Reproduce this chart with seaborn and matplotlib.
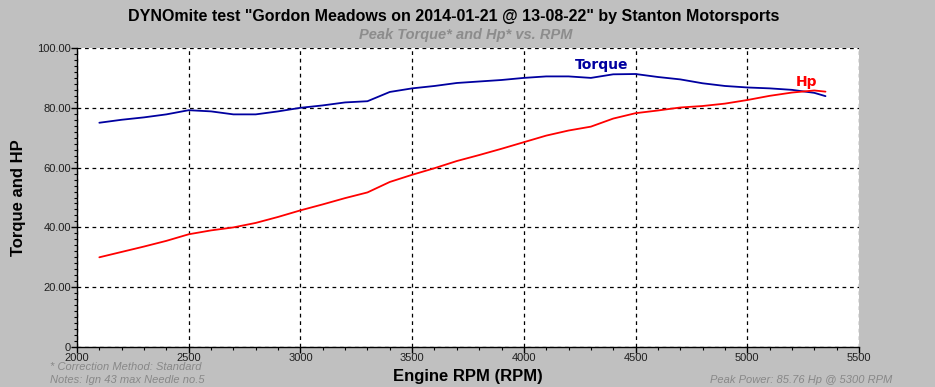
import pandas as pd
import numpy as np
import matplotlib
matplotlib.use("Agg")
import matplotlib.pyplot as plt
import seaborn as sns
from matplotlib.ticker import MultipleLocator, FixedLocator

rpm = [2100, 2200, 2300, 2400, 2500, 2600, 2700, 2800, 2900, 3000, 3100, 3200,
       3300, 3400, 3500, 3600, 3700, 3800, 3900, 4000, 4100, 4200, 4300, 4400,
       4500, 4600, 4700, 4800, 4900, 5000, 5100, 5200, 5300, 5350]
torque = [75.0, 76.0, 76.8, 77.8, 79.2, 78.8, 77.8, 77.8, 78.8, 80.0, 80.8, 81.8,
          82.2, 85.3, 86.5, 87.3, 88.3, 88.8, 89.3, 90.0, 90.5, 90.5, 90.0, 91.2,
          91.3, 90.3, 89.5, 88.2, 87.3, 86.8, 86.5, 86.0, 85.0, 83.9]
hp = [30.0, 31.8, 33.6, 35.5, 37.7, 39.0, 40.0, 41.5, 43.5, 45.7, 47.7, 49.8,
      51.7, 55.2, 57.6, 59.8, 62.2, 64.2, 66.3, 68.5, 70.7, 72.4, 73.7, 76.4,
      78.2, 79.1, 80.1, 80.6, 81.4, 82.6, 84.0, 85.1, 85.8, 85.4]

x_ticks = [2000, 2500, 3000, 3500, 4000, 4500, 5000, 5500]
y_ticks = [0, 20, 40, 60, 80, 100]
y_labels = ["0", "20.00", "40.00", "60.00", "80.00", "100.00"]

sns.set_style("white")
plt.rcParams['font.family'] = ['Liberation Sans', 'DejaVu Sans']

fig = plt.figure(figsize=(9.35, 3.87), dpi=100, facecolor="#c0c0c0")
ax = fig.add_axes([77/935, 1-347/387, (859-77)/935, (347-48)/387])
ax.set_facecolor("white")

df = pd.DataFrame({"rpm": rpm, "Torque": torque, "Hp": hp})
sns.lineplot(data=df, x="rpm", y="Torque", ax=ax, color="#0000a0", lw=1.3)
sns.lineplot(data=df, x="rpm", y="Hp", ax=ax, color="#ff0000", lw=1.3)

ax.set_xlim(2000, 5500)
ax.set_ylim(0, 100)
ax.xaxis.set_major_locator(FixedLocator(x_ticks))
ax.yaxis.set_major_locator(FixedLocator(y_ticks))
ax.set_yticklabels(y_labels)
ax.xaxis.set_minor_locator(MultipleLocator(100))
ax.yaxis.set_minor_locator(MultipleLocator(2))
ax.tick_params(which="major", direction="out", length=4, width=1, colors="black",
               labelsize=8, labelcolor="#202020", pad=0.5,
               bottom=True, left=True)
ax.tick_params(which="minor", direction="out", length=2, width=0.8, colors="black",
               bottom=True, left=True)
ax.grid(True, which="major", color="black", linestyle=(0, (3, 3)), lw=0.9)
for s in ["top", "right"]:
    ax.spines[s].set_visible(False)
for s in ["left", "bottom"]:
    ax.spines[s].set_color("black")
    ax.spines[s].set_linewidth(1)

ax.set_xlabel("Engine RPM (RPM)", fontsize=12, fontweight="bold", color="black")
ax.set_ylabel("Torque and HP", fontsize=12, fontweight="bold", color="black")
ax.xaxis.set_label_coords(0.5, (347-376)/299)
ax.yaxis.set_label_coords((18-77)/782, 0.5)
ax.xaxis.label.set_va("center")
ax.yaxis.label.set_va("center")

ax.text(4350, 94.3, "Torque", color="#0000a0", fontsize=10, fontweight="bold",
        ha="center", va="center", family="DejaVu Sans")
ax.text(5263, 88.6, "Hp", color="#ff0000", fontsize=10, fontweight="bold",
        ha="center", va="center", family="DejaVu Sans")

fig.text(454/935, 1-16/387, 'DYNOmite test "Gordon Meadows on 2014-01-21 @ 13-08-22" by Stanton Motorsports',
         ha="center", va="center", fontsize=11.5, fontweight="bold", color="black")
fig.text(466/935, 1-35/387, "Peak Torque* and Hp* vs. RPM", ha="center", va="center",
         fontsize=10.5, fontweight="bold", style="italic", color="#8c8c8c")
fig.text(50/935, 1-367/387, "* Correction Method: Standard", ha="left", va="center",
         fontsize=8, style="italic", color="#888888")
fig.text(50/935, 1-380/387, "Notes: Ign 43 max Needle no.5", ha="left", va="center",
         fontsize=8, style="italic", color="#888888")
fig.text(892/935, 1-380/387, "Peak Power: 85.76 Hp @ 5300 RPM", ha="right", va="center",
         fontsize=8, style="italic", color="#888888")

fig.savefig("out.png", dpi=100, facecolor=fig.get_facecolor())
